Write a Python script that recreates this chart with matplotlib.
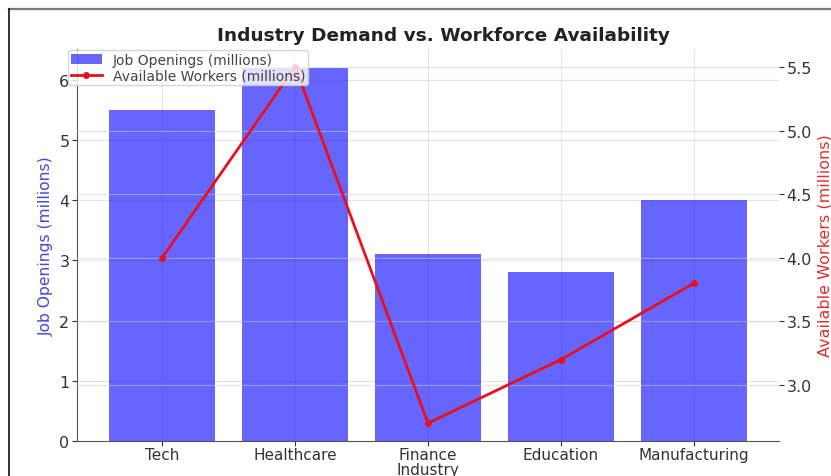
import matplotlib.pyplot as plt
from matplotlib.lines import Line2D

industries = ['Tech', 'Healthcare', 'Finance', 'Education', 'Manufacturing']
job_openings = [5.5, 6.2, 3.1, 2.8, 4.0]
available_workers = [4.0, 5.5, 2.7, 3.2, 3.8]

fig = plt.figure(figsize=(8.31, 4.77), dpi=100)
ax1 = fig.add_axes([0.0927, 0.0734, 0.8447, 0.8216])

bars = ax1.bar(industries, job_openings, color='blue', alpha=0.6, label='Job Openings (millions)', zorder=2)
ax1.set_xlabel('Industry', fontsize=11, color='#333333', labelpad=0)
ax1.set_ylabel('Job Openings (millions)', color='#4444dd', fontsize=11.2)
ax1.tick_params(axis='y', colors='#333333', labelsize=11.5, pad=2)
ax1.tick_params(axis='x', colors='#333333', labelsize=11, pad=1)
ax1.grid(True, color='#cccccc', linewidth=0.8, alpha=0.5, zorder=3)

ax2 = ax1.twinx()
line, = ax2.plot(industries, available_workers, color='#e8101a', marker='o', markersize=4,
                 linewidth=2, label='Available Workers (millions)')
ax2.set_ylabel('Available Workers (millions)', color='#e03030', fontsize=11.5)
ax2.tick_params(axis='y', colors='#333333', labelsize=11.5, pad=2)
ax2.grid(True, color='#cccccc', linewidth=0.8, alpha=0.5)

for a in (ax1, ax2):
    a.spines['top'].set_visible(False)
    a.spines['right'].set_visible(False)
ax2.spines['left'].set_visible(False)
ax2.spines['bottom'].set_visible(False)
ax1.spines['left'].set_color('#555555')
ax1.spines['bottom'].set_color('#555555')

fig.text(0.533, 0.925, 'Industry Demand vs. Workforce Availability', ha='center', va='center',
         fontsize=13.3, fontweight='bold', color='#222222')

fig.legend(handles=[bars, line], loc='upper left', bbox_to_anchor=(0.074, 0.908),
           fontsize=10, frameon=True, borderpad=0.2, labelspacing=0.15, handlelength=2.2,
           labelcolor='#444444')

# screenshot frame edges
fig.add_artist(Line2D([0.011, 1.0], [0.979, 0.979], color='#777777', linewidth=1.6))
fig.add_artist(Line2D([0.011, 0.011], [0.0, 0.979], color='#111111', linewidth=1.2))

fig.savefig('out.png', dpi=100)
